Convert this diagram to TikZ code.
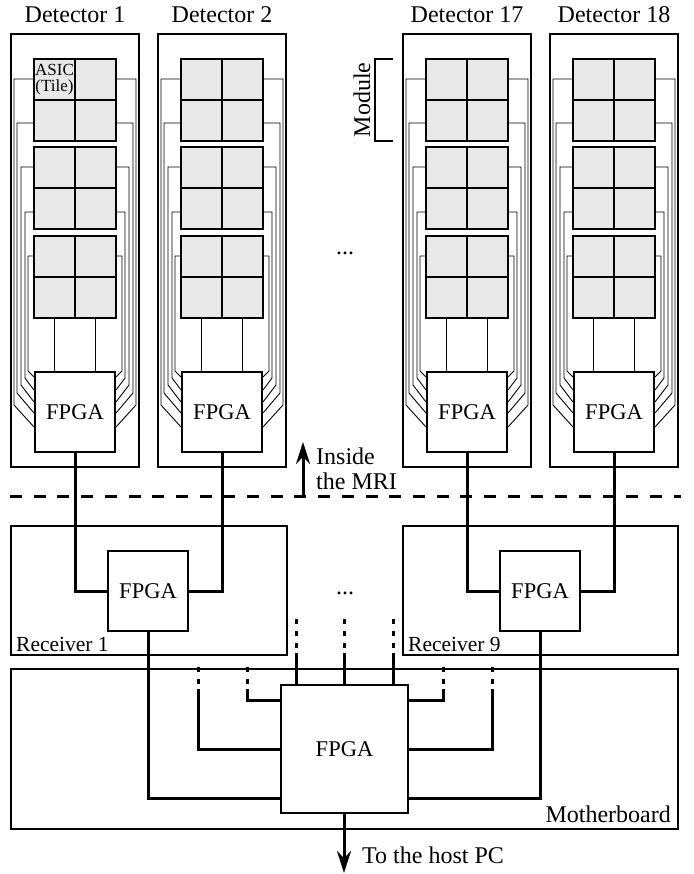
\documentclass[tikz,border=0pt]{standalone}
\usepackage{fontspec}
\setmainfont{Liberation Serif}
\usetikzlibrary{arrows.meta,positioning}

\begin{document}
\begin{tikzpicture}[
    x=1pt, y=-1pt,
    lbl/.style={inner sep=0pt, font=\fontsize{24}{26}\selectfont, align=left},
    panel/.style={draw, line width=2pt, minimum width=128pt, minimum height=433pt, inner sep=0pt},
    rxbox/.style={draw, line width=2pt, minimum height=129pt, inner sep=0pt},
    tile/.style={draw, line width=2.2pt, fill=black!9, minimum size=41pt, inner sep=0pt},
    fpga/.style={draw, fill=white, line width=2pt, minimum size=80pt, inner sep=0pt, font=\fontsize{22.5}{24}\selectfont},
    wire/.style={line width=0.9pt},
    link/.style={line width=3pt},
    busdash/.style={link, dash pattern=on 5pt off 7pt, dash phase=7pt},
    arrow/.style={-{Stealth[length=22pt, width=14pt]}, link}
]
\useasboundingbox (0,0) rectangle (693,874);

% detector columns
\foreach \d/\cx in {1/75, 2/222, 17/467, 18/614} {
  \begin{scope}[shift={(\cx,0)}]
    \node[panel] (det\d) at (0,250.5) {};
    \node[lbl, above=10pt of det\d] (name\d) {Detector \d};
    \foreach \r/\ty in {1/79.5, 2/120.5, 3/167.5, 4/208.5, 5/256.5, 6/297.5} {
      \node[tile] (L\d-\r) at (-20.5,\ty) {};
      \node[tile] (R\d-\r) at (20.5,\ty) {};
    }
    \node[fpga] (chip\d) at (0,412) {FPGA};
    % five wires on each side
    \foreach \r/\wy/\wx/\by/\ey in {1/79/61/405/427, 2/123/58/393/413, 3/167/54/385/402, 4/212/50/378/390, 5/256/47/371/377} {
      \draw[wire] (L\d-\r.west |- 0,\wy) -- (-\wx,\wy) -- (-\wx,\by) -- (chip\d.west |- 0,\ey);
      \draw[wire] (R\d-\r.east |- 0,\wy) -- (\wx,\wy) -- (\wx,\by) -- (chip\d.east |- 0,\ey);
    }
    \draw[wire] (L\d-6.south) -- (L\d-6.south |- chip\d.north);
    \draw[wire] (R\d-6.south) -- (R\d-6.south |- chip\d.north);
  \end{scope}
}

\node[lbl] (dots1) at (345,253) {...};
\node[lbl, rotate=90] (modname) at (362,100) {Module};
\coordinate (modtop) at (393,59);
\coordinate (modbot) at (393,141);
\draw[line width=2pt] (modtop) -- ++(-18,0) -- ([xshift=-18pt]modbot) -- (modbot);

% boundary of the scanner
\coordinate (bndL) at (10,496);
\coordinate (bndR) at (681,496);
\coordinate (bndA) at (303,496);
\coordinate (bndB) at (303,442);
\draw[link, dash pattern=on 12pt off 11.7pt] (bndL) -- (bndR);
\draw[arrow] (bndA) -- (bndB);
\node[lbl, anchor=west] (inside) at (316,469) {Inside\\[-1pt]the MRI};

% receivers
\node[rxbox, minimum width=276pt] (rx1) at (149,590.5) {};
\node[rxbox, minimum width=275pt] (rx9) at (540.5,590.5) {};
\node[fpga] (rxchip1) at (148,591) {FPGA};
\node[fpga] (rxchip9) at (540,591) {FPGA};
\node[lbl, font=\fontsize{21.5}{24}\selectfont, anchor=base west] (rxname1) at (16,651) {Receiver 1};
\node[lbl, font=\fontsize{21.5}{24}\selectfont, anchor=base west] (rxname9) at (408,651) {Receiver 9};
\node[lbl] (dots2) at (345,593) {...};
\draw[link] (chip1.south) |- (rxchip1.west);
\draw[link] (chip2.south) |- (rxchip1.east);
\draw[link] (chip17.south) |- (rxchip9.west);
\draw[link] (chip18.south) |- (rxchip9.east);

% motherboard
\node[draw, line width=2pt, minimum width=667pt, minimum height=160pt, inner sep=0pt] (board) at (344.5,749) {};
\node[fpga, minimum width=127pt, minimum height=128pt] (mainchip) at (344.5,749) {FPGA};
\node[lbl, anchor=base east] (boardname) at (671,822) {Motherboard};
\draw[link] (rxchip1.south) |- (mainchip.west |- 0,798);
\draw[link] (rxchip9.south) |- (mainchip.east |- 0,798);

% open bus lines
\foreach \n/\bx in {a/296, b/344, c/393} {
  \coordinate (bus\n) at (\bx,653);
  \draw[link] (mainchip.north -| bus\n) -- (bus\n);
  \draw[busdash] (bus\n) -- ++(0,-36);
}
\foreach \n/\bx/\by/\side in {d/247/700/west, e/198/749/west, f/443/700/east, g/492/749/east} {
  \coordinate (bus\n) at (\bx,689);
  \draw[link] (mainchip.\side |- 0,\by) -| (bus\n);
  \draw[busdash] (bus\n) -- ++(0,-23);
}

\coordinate (hostpc) at (344,873);
\draw[arrow] (mainchip.south -| hostpc) -- (hostpc);
\node[lbl, anchor=base west] (hostname) at (362,863) {To the host PC};

% tile label on top of the first tile
\node[lbl, font=\fontsize{17}{16}\selectfont, align=center] (asic) at (L1-1) {ASIC\\(Tile)};
\end{tikzpicture}
\end{document}
